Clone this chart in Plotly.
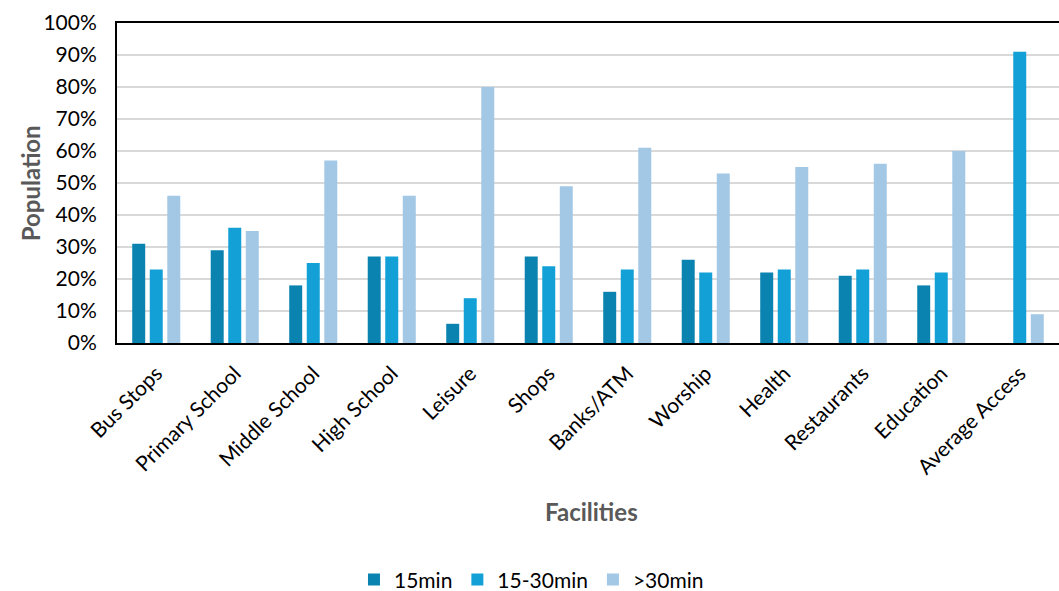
import plotly.graph_objects as go

categories = ["Bus Stops", "Primary School", "Middle School", "High School", "Leisure",
              "Shops", "Banks/ATM", "Worship", "Health", "Restaurants", "Education",
              "Average Access"]
s15 = [31, 29, 18, 27, 6, 27, 16, 26, 22, 21, 18, None]
s15_30 = [23, 36, 25, 27, 14, 24, 23, 22, 23, 23, 22, 91]
s30 = [46, 35, 57, 46, 80, 49, 61, 53, 55, 56, 60, 9]
series_names = ["15min", "15-30min", ">30min"]
colors = ["#0A83B0", "#12A0D7", "#A2C8E6"]
yticks = [0, 10, 20, 30, 40, 50, 60, 70, 80, 90, 100]

fig = go.Figure()
for name, vals, c in zip(series_names, [s15, s15_30, s30], colors):
    fig.add_trace(go.Bar(x=categories, y=vals, name=name, marker_color=c,
                         marker_line_width=0))

font = "Lato, 'Open Sans', sans-serif"
fig.update_layout(
    width=1059, height=591,
    margin=dict(l=117, r=0, t=23, b=248, autoexpand=False),
    paper_bgcolor="white", plot_bgcolor="white",
    barmode="group", bargap=0.33, bargroupgap=0.26,
    font=dict(family=font, size=21, color="#000"),
    showlegend=True,
    legend=dict(orientation="h", x=0.44, xanchor="center", y=-0.74, yanchor="middle",
                font=dict(size=21, color="#000"), itemwidth=30, tracegroupgap=0),
    xaxis=dict(tickangle=-45, showline=True, linecolor="#000", linewidth=2, mirror=True,
               ticks="", tickfont=dict(size=21, color="#000"), showgrid=False,
               automargin=False, ticklabelstandoff=8),
    yaxis=dict(range=[0, 100], tickvals=yticks, ticktext=[f"{v}%" for v in yticks],
               showline=True, linecolor="#000", linewidth=2, ticks="",
               showgrid=True, gridcolor="#D9D9D9", gridwidth=1.5, zeroline=False,
               tickfont=dict(size=21, color="#000"), ticklabelstandoff=14,
               automargin=False),
    annotations=[
        dict(text="<b>Facilities</b>", xref="paper", yref="paper", x=0.504, y=-0.525,
             showarrow=False, font=dict(size=24, color="#595959"), xanchor="center", yanchor="middle"),
        dict(text="<b>Population</b>", xref="paper", yref="paper", x=-0.092, y=0.5,
             showarrow=False, textangle=-90, font=dict(size=24, color="#595959"),
             xanchor="center", yanchor="middle"),
    ],
)
fig.write_html("out.html")
